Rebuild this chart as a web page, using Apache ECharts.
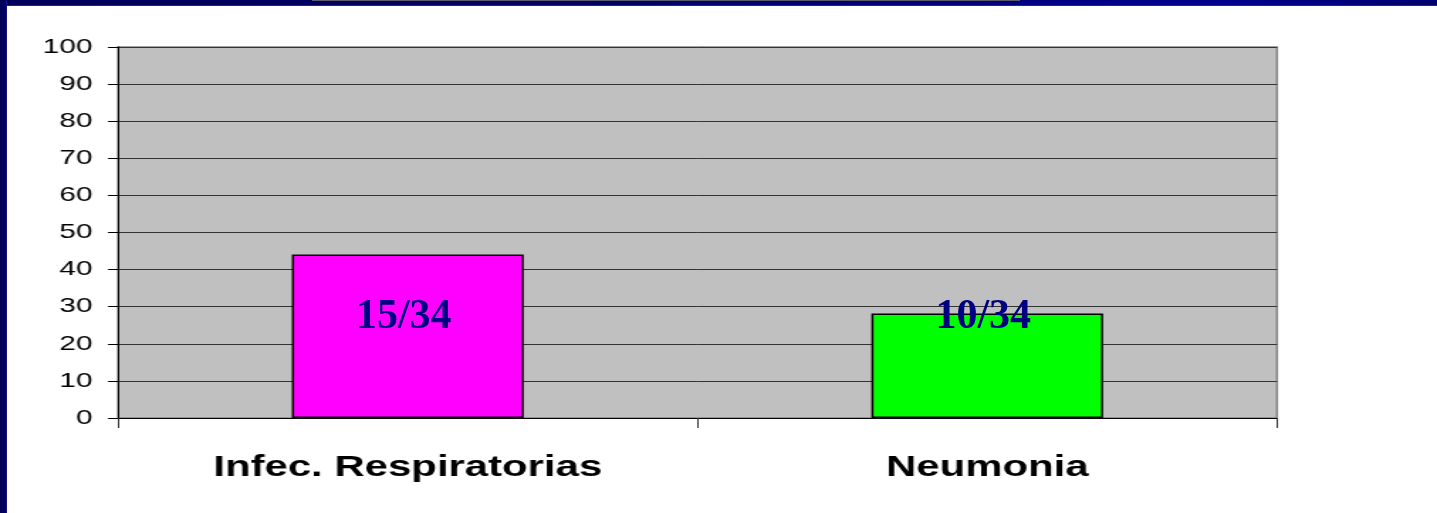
<!DOCTYPE html>
<html>
<head>
<meta charset="utf-8">
<title>Infecciones respiratorias y neumonía</title>
<script src="https://cdn.jsdelivr.net/npm/echarts@6/dist/echarts.min.js"></script>
<style>
  html, body { margin: 0; padding: 0; background: #fff; overflow: hidden; }
  #page { position: relative; width: 1437px; height: 513px; background: #fff; overflow: hidden; }
  #frameTop { position: absolute; left: 0; top: 0; width: 1437px; height: 5px;
    background: linear-gradient(90deg, #00005a 0%, #000068 40%, #00008e 85%, #00006e 100%);
    border-bottom: 1px solid #2b2b3b; }
  #frameLeft { position: absolute; left: 0; top: 0; width: 7px; height: 513px;
    background: linear-gradient(90deg, #000058 0%, #000066 75%, #1a1a80 100%); }
  #titleEdge { position: absolute; left: 312px; top: 0; width: 708px; height: 1px; background: #5c5c6c; }
  #chartA { position: absolute; left: 0; top: 0; transform-origin: 0 0; }
  #chartB { position: absolute; left: 0; top: 0; width: 1437px; height: 513px; pointer-events: none; }
</style>
</head>
<body>
<div id="page">
  <div id="chartA"></div>
  <div id="chartB"></div>
  <div id="frameTop"></div>
  <div id="titleEdge"></div>
  <div id="frameLeft"></div>
</div>
<script>
// Data
const categories = ['Infec. Respiratorias', 'Neumonia'];
const percentValues = [44.1, 28.2];
const caseCounts = [15, 10];
const totalCases = 34;
const yTicks = [0, 10, 20, 30, 40, 50, 60, 70, 80, 90, 100];
const barColors = ['#ff00ff', '#00ff00'];

// Page geometry
const W = 1437, H = 513;
const plot = { left: 118, right: 1277, top: 47, bottom: 418 };

// The axes/bars layer is drawn narrower and stretched horizontally,
// the count labels sit on an unstretched overlay with the same grid.
const AW = 1012;
const SX = W / AW;

const yMin = yTicks[0];
const yMax = yTicks[yTicks.length - 1];
const yStep = yTicks[1] - yTicks[0];

const domA = document.getElementById('chartA');
domA.style.width = AW + 'px';
domA.style.height = H + 'px';
domA.style.transform = 'scaleX(' + SX + ')';

const chartA = echarts.init(domA, null, { width: AW, height: H, renderer: 'canvas' });
chartA.setOption({
  animation: false,
  backgroundColor: 'transparent',
  grid: {
    left: plot.left / SX,
    right: (W - plot.right) / SX,
    top: plot.top,
    bottom: H - plot.bottom,
    show: true,
    backgroundColor: '#c0c0c0',
    borderColor: '#858585',
    borderWidth: 1.5,
    containLabel: false,
    outerBoundsMode: 'none'
  },
  xAxis: {
    type: 'category',
    data: categories,
    boundaryGap: true,
    axisLine: { show: true, lineStyle: { color: '#000', width: 1 } },
    axisTick: { show: true, length: 10, lineStyle: { color: '#333', width: 1 } },
    axisLabel: {
      margin: 35,
      fontFamily: 'Liberation Sans, Arial, sans-serif',
      fontWeight: 'bold',
      fontSize: 29.5,
      color: '#000'
    },
    splitLine: { show: false }
  },
  yAxis: {
    type: 'value',
    min: yMin,
    max: yMax,
    interval: yStep,
    axisLine: { show: true, lineStyle: { color: '#000', width: 1 } },
    axisTick: { show: true, length: 10 / SX, lineStyle: { color: '#000', width: 1 } },
    axisLabel: {
      margin: 18,
      fontFamily: 'Liberation Sans, Arial, sans-serif',
      fontSize: 21,
      color: '#000'
    },
    splitLine: { show: true, lineStyle: { color: '#333', width: 1 } }
  },
  series: [{
    type: 'bar',
    barWidth: '40%',
    data: percentValues.map((v, i) => ({
      value: v,
      itemStyle: { color: barColors[i] }
    })),
    itemStyle: { borderColor: '#000', borderWidth: 1.5 },
    label: { show: false }
  }]
});

const chartB = echarts.init(document.getElementById('chartB'), null, { width: W, height: H, renderer: 'canvas' });
chartB.setOption({
  animation: false,
  backgroundColor: 'transparent',
  grid: {
    left: plot.left,
    right: W - plot.right,
    top: plot.top,
    bottom: H - plot.bottom,
    show: false,
    containLabel: false,
    outerBoundsMode: 'none'
  },
  xAxis: { type: 'category', data: categories, show: false },
  yAxis: { type: 'value', min: yMin, max: yMax, interval: yStep, show: false },
  series: [{
    type: 'bar',
    barWidth: '40%',
    silent: true,
    data: percentValues,
    itemStyle: { color: 'rgba(0,0,0,0)' },
    label: {
      show: true,
      position: 'insideBottom',
      distance: 80,
      offset: [-4, 0],
      formatter: p => caseCounts[p.dataIndex] + '/' + totalCases,
      fontFamily: 'Liberation Serif, Times New Roman, serif',
      fontWeight: 'bold',
      fontSize: 42,
      color: '#000080'
    }
  }]
});
</script>
</body>
</html>
